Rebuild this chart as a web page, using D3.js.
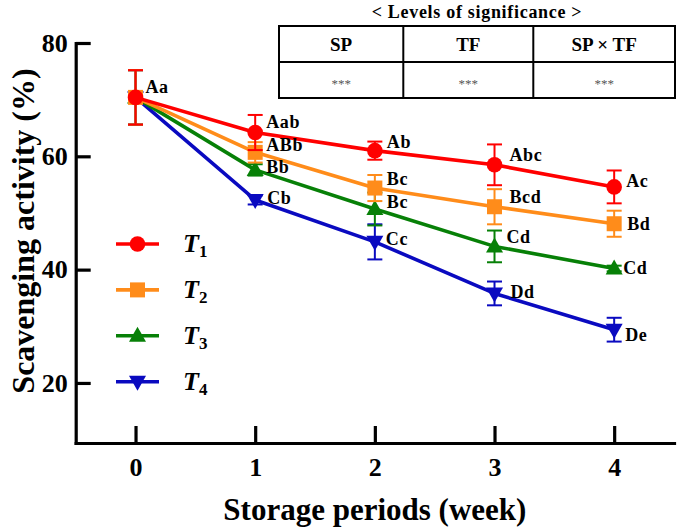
<!DOCTYPE html>
<html>
<head>
<meta charset="utf-8">
<script src="https://cdn.jsdelivr.net/npm/d3@7"></script>
<style>
  html, body { margin: 0; padding: 0; background: #fff; }
  svg { display: block; }
  svg text { font-family: 'Liberation Serif', 'Times New Roman', Times, 'DejaVu Serif', serif; font-weight: bold; }
</style>
</head>
<body>
<script>
// ---------- data ----------
const weeks = [0, 1, 2, 3, 4];
const seriesNames = ["T1", "T2", "T3", "T4"];
const t1 = [70.4, 64.2, 61.0, 58.5, 54.6];
const t2 = [70.4, 60.7, 54.4, 51.1, 48.1];
const t3 = [70.4, 57.6, 50.7, 44.1, 40.2];
const t4 = [70.4, 52.3, 44.9, 35.8, 29.4];
const t1Err = [4.8, 3.1, 1.6, 3.6, 2.9];
const t2Err = [4.8, 1.8, 2.3, 3.1, 2.3];
const t3Err = [4.8, 1.0, 2.9, 2.8, 0.5];
const t4Err = [4.8, 0.8, 3.1, 2.1, 2.1];
const t1Labels = ["Aa", "Aab", "Ab", "Abc", "Ac"];
const t2Labels = ["", "ABb", "Bc", "Bcd", "Bd"];
const t3Labels = ["", "Bb", "Bc", "Cd", "Cd"];
const t4Labels = ["", "Cb", "Cc", "Dd", "De"];
const yTicks = [20, 40, 60, 80];
const tableTitle = "< Levels of significance >";
const tableHeaders = ["SP", "TF", "SP \u00d7 TF"];
const tableValues = ["***", "***", "***"];
const xTitle = "Storage periods (week)";
const yTitle = "Scavenging activity (%)";

// ---------- layout / style ----------
const W = 679, H = 528;
const FONT = "'Liberation Serif', 'Times New Roman', Times, 'DejaVu Serif', serif";
const colors = ["#ff0000", "#ff8c1a", "#078007", "#0a0ac0"];
const shapes = ["circle", "square", "triangle", "down"];
// label offsets (dx, dy) per series per point
const labelOffsets = [
  [[10, -10], [11, -11], [12, -9], [15, -10], [12, -6]],
  [[0, 0], [11, -7], [12, -9], [15, -10], [13, 0]],
  [[0, 0], [11, -3], [12, -7], [12, -9], [9, 0]],
  [[0, 0], [12, -2], [11, -3], [16, -1], [11, 5]]
];

const series = [
  { name: seriesNames[0], values: t1, err: t1Err, labels: t1Labels },
  { name: seriesNames[1], values: t2, err: t2Err, labels: t2Labels },
  { name: seriesNames[2], values: t3, err: t3Err, labels: t3Labels },
  { name: seriesNames[3], values: t4, err: t4Err, labels: t4Labels }
];

const svg = d3.select("body").append("svg").attr("width", W).attr("height", H)
  .attr("font-family", FONT).attr("font-weight", "bold");

const x = d3.scaleLinear().domain([-0.5, 4.5]).range([75.7, 674]);
const y = d3.scaleLinear().domain([9.4, 80]).range([443, 43]);

// axes
const yAxis = svg.append("g").attr("transform", `translate(${x.range()[0]},0)`)
  .call(d3.axisLeft(y).tickValues(yTicks).tickSize(-15).tickSizeOuter(0).tickPadding(8).tickFormat(d3.format("d")));
const xAxis = svg.append("g").attr("transform", `translate(0,${y.range()[0]})`)
  .call(d3.axisBottom(x).tickValues(weeks).tickSize(-17).tickSizeOuter(0).tickPadding(15).tickFormat(d3.format("d")));
[yAxis, xAxis].forEach(g => {
  g.attr("font-family", FONT).attr("font-size", 26);
  g.select(".domain").attr("stroke", "#000").attr("stroke-width", 3.2).attr("stroke-linecap", "square");
  g.selectAll(".tick line").attr("stroke", "#000").attr("stroke-width", 3.2);
  g.selectAll(".tick text").attr("fill", "#000").style("font-size", "26px")
    .style("font-family", FONT).style("font-weight", "bold");
});

// axis titles
svg.append("text").attr("x", (x.range()[0] + x.range()[1]) / 2).attr("y", 520)
  .attr("text-anchor", "middle").style("font-size", "31px").text(xTitle);
svg.append("text").attr("transform", `translate(34,231) rotate(-90)`)
  .attr("text-anchor", "middle").style("font-size", "32px").text(yTitle);

// symbol drawing
function drawSymbol(g, shape, cx, cy, color) {
  if (shape === "circle") {
    g.append("circle").attr("cx", cx).attr("cy", cy).attr("r", 7.8).attr("fill", color);
  } else if (shape === "square") {
    g.append("rect").attr("x", cx - 7.5).attr("y", cy - 7.5).attr("width", 15).attr("height", 15).attr("fill", color);
  } else if (shape === "triangle") {
    g.append("path").attr("d", `M${cx},${cy - 9}L${cx + 8.5},${cy + 6}L${cx - 8.5},${cy + 6}Z`).attr("fill", color);
  } else {
    g.append("path").attr("d", `M${cx},${cy + 9}L${cx + 8.5},${cy - 6}L${cx - 8.5},${cy - 6}Z`).attr("fill", color);
  }
}

const line = d3.line().x((d, i) => x(weeks[i])).y(d => y(d));

// draw series T4 first so T1 is on top
for (let s = series.length - 1; s >= 0; s--) {
  const sr = series[s];
  const g = svg.append("g");
  const c = colors[s];
  sr.values.forEach((v, i) => {
    const cx = x(weeks[i]);
    const y1 = y(v + sr.err[i]), y2 = y(v - sr.err[i]);
    g.append("line").attr("x1", cx).attr("x2", cx).attr("y1", y1).attr("y2", y2).attr("stroke", c).attr("stroke-width", 2);
    [y1, y2].forEach(yy => g.append("line").attr("x1", cx - 7.5).attr("x2", cx + 7.5).attr("y1", yy).attr("y2", yy)
      .attr("stroke", c).attr("stroke-width", 2));
  });
  g.append("path").attr("d", line(sr.values)).attr("fill", "none").attr("stroke", c).attr("stroke-width", 3.6).attr("stroke-linejoin", "round");
  sr.values.forEach((v, i) => drawSymbol(g, shapes[s], x(weeks[i]), y(v), c));
}

// letter labels
series.forEach((sr, s) => {
  sr.values.forEach((v, i) => {
    if (!sr.labels[i]) return;
    const off = labelOffsets[s][i];
    svg.append("text").attr("x", x(weeks[i]) + off[0]).attr("y", y(v) + off[1])
      .attr("dominant-baseline", "central").style("font-size", "18px").style("letter-spacing", "0.6px")
      .attr("fill", "#000").text(sr.labels[i]);
  });
});

// legend
series.forEach((sr, s) => {
  const ly = 244 + s * 45.9;
  const g = svg.append("g");
  g.append("line").attr("x1", 116).attr("x2", 159).attr("y1", ly).attr("y2", ly).attr("stroke", colors[s]).attr("stroke-width", 3.6);
  drawSymbol(g, shapes[s], 137.5, ly, colors[s]);
  const t = g.append("text").attr("x", 183).attr("y", ly + 8).attr("fill", "#000");
  t.append("tspan").style("font-size", "26px").style("font-style", "italic").text(sr.name.charAt(0));
  t.append("tspan").style("font-size", "17px").attr("dy", 5).text(sr.name.slice(1));
});

// significance table
const tb = { left: 279, right: 675, top: 26, mid: 62, bottom: 98 };
const colX = [279, 403.3, 533.3, 675];
svg.append("text").attr("x", (tb.left + tb.right) / 2).attr("y", 18).attr("text-anchor", "middle")
  .style("font-size", "18px").style("letter-spacing", "0.7px").text(tableTitle);
const tg = svg.append("g").attr("stroke", "#000").attr("stroke-width", 2);
tg.append("rect").attr("x", tb.left).attr("y", tb.top).attr("width", tb.right - tb.left).attr("height", tb.bottom - tb.top).attr("fill", "none");
tg.append("line").attr("x1", tb.left).attr("x2", tb.right).attr("y1", tb.mid).attr("y2", tb.mid);
[1, 2].forEach(k => tg.append("line").attr("x1", colX[k]).attr("x2", colX[k]).attr("y1", tb.top).attr("y2", tb.bottom));
tableHeaders.forEach((h, k) => {
  svg.append("text").attr("x", (colX[k] + colX[k + 1]) / 2).attr("y", (tb.top + tb.mid) / 2)
    .attr("text-anchor", "middle").attr("dominant-baseline", "central").style("font-size", "19px").text(h);
});
tableValues.forEach((v, k) => {
  svg.append("text").attr("x", (colX[k] + colX[k + 1]) / 2).attr("y", (tb.mid + tb.bottom) / 2 + 3)
    .attr("text-anchor", "middle").attr("dominant-baseline", "central").style("font-size", "13px")
    .style("font-weight", "normal").attr("fill", "#555").text(v);
});
</script>
</body>
</html>
